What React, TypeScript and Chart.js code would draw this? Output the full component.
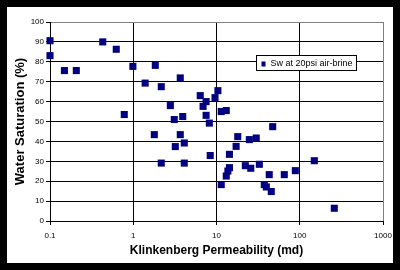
import React, { useEffect, useRef } from 'react';
import { Chart, registerables } from 'chart.js';

Chart.register(...registerables);

// Klinkenberg permeability (md)
const permeability = [
  0.1, 0.1, 0.149, 0.207, 0.43, 0.625, 0.78, 0.99, 1.39, 1.84,
  2.17, 3.67, 2.79, 3.11, 3.93, 1.79, 3.67, 4.1, 3.2, 2.17,
  4.1, 6.38, 10.4, 9.6, 7.5, 6.9, 11.4, 13.1, 7.5, 8.2,
  8.4, 18, 24.8, 30, 17.2, 14.3, 47.3, 22.2, 25.8, 14.3,
  13.7, 13.1, 11.4, 32.7, 43, 65.2, 88.5, 37.5, 39.7, 45.5,
  149.6, 260,
];
// Water saturation (%)
const saturation = [
  90.6, 83.1, 75.6, 75.6, 90.0, 86.3, 53.5, 77.7, 69.3, 78.2,
  67.5, 71.9, 58.0, 51.0, 52.5, 43.4, 43.4, 39.2, 37.4, 29.1,
  29.1, 63.0, 65.5, 62.0, 60.0, 57.6, 55.0, 55.5, 53.1, 49.2,
  32.9, 42.4, 40.9, 41.7, 37.5, 33.5, 47.4, 27.8, 26.5, 26.8,
  25.1, 22.6, 18.3, 28.5, 23.3, 23.3, 25.3, 18.3, 17.1, 14.8,
  30.3, 6.4,
];

const xTickValues = [0.1, 1, 10, 100, 1000];
const xTickLabels = ['0.1', '1', '10', '100', '1000'];
const seriesLabel = 'Sw at 20psi air-brine';
const xTitle = 'Klinkenberg Permeability (md)';
const yTitle = 'Water Saturation (%)';

const FONT = "Arial, 'Liberation Sans', sans-serif";
const NAVY = '#000080';

const framePlugin = {
  id: 'frame',
  beforeDraw(chart: any) {
    const ctx = chart.ctx;
    ctx.save();
    ctx.fillStyle = '#000';
    ctx.fillRect(0, 0, chart.width, chart.height);
    ctx.fillStyle = '#fff';
    ctx.fillRect(7, 7, chart.width - 14, chart.height - 14);
    ctx.restore();
  },
};

const boxLegendPlugin = {
  id: 'boxLegend',
  afterDraw(chart: any) {
    const ctx = chart.ctx;
    const ds = chart.data.datasets[0];
    const area = chart.chartArea;
    const x = Math.round(area.left + 206) + 0.5;
    const y = Math.round(area.top + 33) + 0.5;
    const w = 100;
    const h = 15;
    ctx.save();
    ctx.fillStyle = '#fff';
    ctx.fillRect(x, y, w, h);
    ctx.strokeStyle = '#000';
    ctx.lineWidth = 1;
    ctx.strokeRect(x, y, w, h);
    ctx.fillStyle = ds.backgroundColor;
    ctx.fillRect(x + 5, y + 6, 4, 5);
    ctx.fillStyle = '#000';
    ctx.font = `9px ${FONT}`;
    ctx.textBaseline = 'middle';
    ctx.textAlign = 'left';
    ctx.fillText(ds.label, x + 14, y + 8.5);
    ctx.restore();
  },
};

export default function App() {
  const canvasRef = useRef<HTMLCanvasElement | null>(null);

  useEffect(() => {
    document.body.style.margin = '0';
    document.body.style.background = '#000';
    const canvas = canvasRef.current;
    if (!canvas) return;
    const points = permeability.map((p, i) => ({ x: p, y: saturation[i] }));
    const chart = new Chart(canvas, {
      type: 'scatter',
      data: {
        datasets: [
          {
            label: seriesLabel,
            data: points,
            backgroundColor: NAVY,
            borderColor: NAVY,
            borderWidth: 0,
            pointStyle: 'rect',
            pointRadius: 5,
            pointHoverRadius: 5,
            clip: false,
          } as any,
        ],
      },
      options: {
        animation: false,
        responsive: false,
        devicePixelRatio: 1,
        layout: { padding: { left: 0, right: 17, top: 22, bottom: 0 } },
        plugins: {
          legend: { display: false },
          tooltip: { enabled: false },
        },
        scales: {
          x: {
            type: 'logarithmic',
            min: 0.1,
            max: 1000,
            afterBuildTicks: (scale: any) => {
              scale.ticks = xTickValues.map((v) => ({ value: v }));
            },
            afterFit: (scale: any) => {
              scale.height = 49;
            },
            ticks: {
              autoSkip: false,
              maxRotation: 0,
              padding: 6,
              color: '#000',
              font: { family: FONT, size: 8 },
              callback: (value: any) => {
                const i = xTickValues.indexOf(Number(value));
                return i >= 0 ? xTickLabels[i] : '';
              },
            },
            grid: {
              color: (c: any) => (c.tick && c.tick.value === 1000 ? '#808080' : '#000'),
              tickColor: '#000',
              tickLength: 4,
              lineWidth: 1,
            },
            border: { display: true, color: '#000', width: 1 },
            title: {
              display: true,
              text: xTitle,
              color: '#000',
              font: { family: FONT, size: 12, weight: 'bold' },
              padding: { top: 0, bottom: 12 },
            },
          },
          y: {
            min: 0,
            max: 100,
            afterFit: (scale: any) => {
              scale.width = 50;
            },
            ticks: {
              stepSize: 10,
              padding: 2,
              color: '#000',
              font: { family: FONT, size: 8 },
            },
            grid: {
              color: (c: any) => (c.tick && c.tick.value === 100 ? '#808080' : '#000'),
              tickColor: '#000',
              tickLength: 4,
              lineWidth: 1,
            },
            border: { display: true, color: '#000', width: 1 },
            title: {
              display: true,
              text: yTitle,
              color: '#000',
              font: { family: FONT, size: 13, weight: 'bold' },
              padding: { top: 13, bottom: 0 },
            },
          },
        },
      } as any,
      plugins: [framePlugin, boxLegendPlugin],
    });
    return () => chart.destroy();
  }, []);

  return (
    <canvas
      ref={canvasRef}
      width={400}
      height={270}
      style={{ display: 'block', width: 400, height: 270 }}
    />
  );
}
